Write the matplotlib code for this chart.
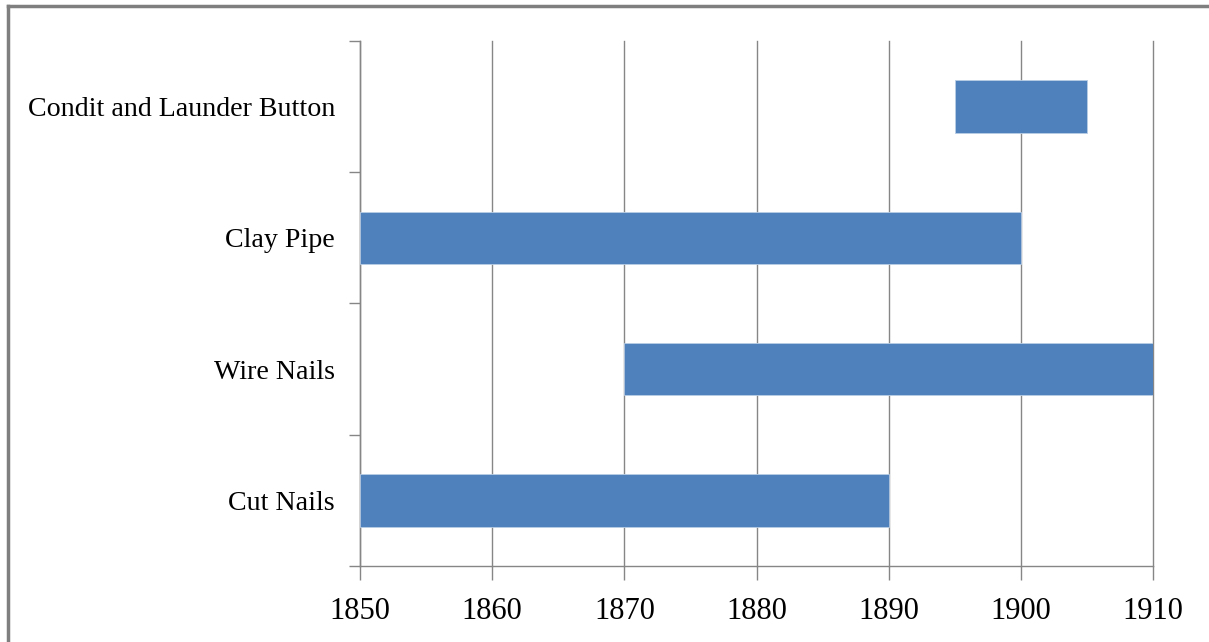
import matplotlib.pyplot as plt
from matplotlib.lines import Line2D

# --- Data ---
items = ["Cut Nails", "Wire Nails", "Clay Pipe", "Condit and Launder Button"]
start_year = [1850, 1870, 1850, 1895]
end_year = [1890, 1910, 1900, 1905]
year_ticks = [1850, 1860, 1870, 1880, 1890, 1900, 1910]

plt.rcParams["font.family"] = ["Liberation Serif", "DejaVu Serif"]

fig = plt.figure(figsize=(12.09, 6.42), dpi=100)
ax = fig.add_axes([0.2978, 0.1184, 0.6559, 0.8178])

widths = [e - s for s, e in zip(start_year, end_year)]
ypos = list(range(len(items)))
ax.barh(ypos, widths, left=start_year, height=0.4, color="#4F81BD",
        edgecolor="#B9CDE5", linewidth=0.6, zorder=3)

ax.set_xlim(1850, 1910)
ax.set_ylim(-0.5, len(items) - 0.5)
ax.set_xticks(year_ticks)
ax.set_xticklabels([str(y) for y in year_ticks], fontsize=22)

# category labels centred in each band, ticks at the band edges
ax.set_yticks(ypos)
ax.set_yticklabels(items, fontsize=20.2)
ax.tick_params(axis="y", which="major", length=0, pad=18)
ax.set_yticks([i - 0.5 for i in range(len(items) + 1)], minor=True)
ax.tick_params(axis="y", which="minor", length=8, color="#868686", width=1)
ax.tick_params(axis="x", length=10, color="#868686", width=1, pad=12)

ax.grid(True, axis="x", color="#868686", linewidth=1, zorder=0)
for gl in ax.get_xgridlines():
    gl.set_clip_on(False)
for side in ["top", "right"]:
    ax.spines[side].set_visible(False)
for side in ["left", "bottom"]:
    ax.spines[side].set_color("#868686")
    ax.spines[side].set_linewidth(1)

# outer frame (top and left edges only visible in reference)
fig.add_artist(Line2D([8 / 1209, 1], [1 - 6 / 642, 1 - 6 / 642],
                      transform=fig.transFigure, color="#7F7F7F", linewidth=2.5))
fig.add_artist(Line2D([8 / 1209, 8 / 1209], [0, 1 - 6 / 642],
                      transform=fig.transFigure, color="#7F7F7F", linewidth=2.5))

fig.savefig("out.png", dpi=100)
